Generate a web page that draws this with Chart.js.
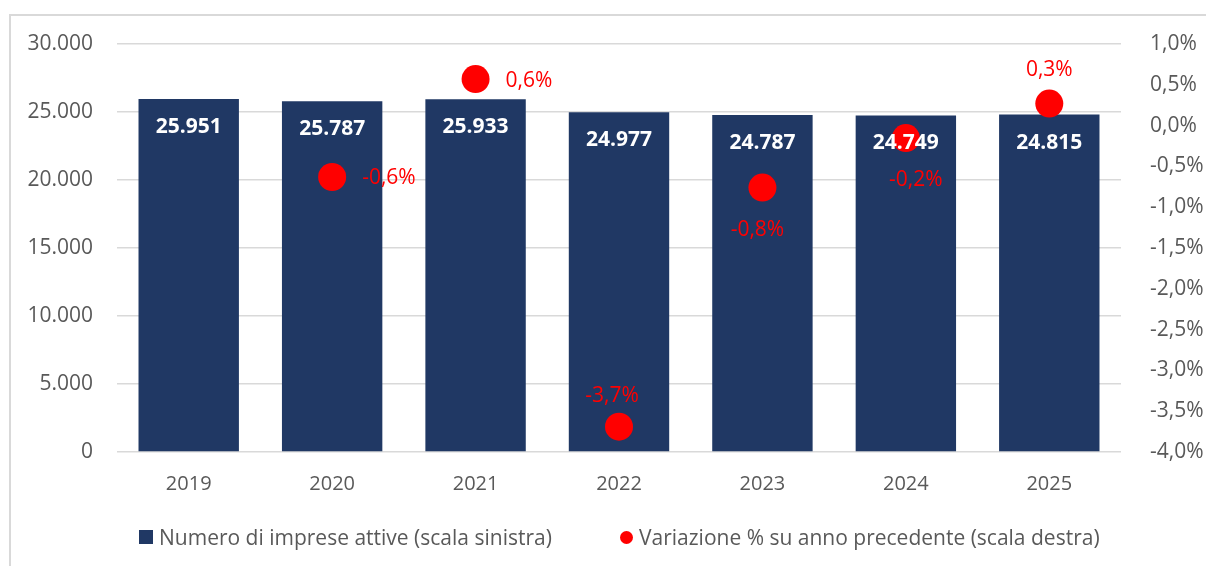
<!DOCTYPE html>
<html>
<head>
<meta charset="utf-8">
<script src="https://cdn.jsdelivr.net/npm/chart.js@4/dist/chart.umd.min.js"></script>
<style>
  body { margin: 0; background: #fff; }
  #wrap { position: relative; width: 1206px; height: 566px; overflow: hidden; }
  #frame { position: absolute; left: 9px; top: 14px; width: 1300px; height: 700px; border: 2px solid #d9d9d9; box-sizing: border-box; }
  canvas { position: absolute; left: 0; top: 0; }
  .leg { position: absolute; top: 523px; font: 21px "Open Sans", sans-serif; color: #595959; white-space: nowrap; line-height: 28px; }
  .leg i { display: inline-block; vertical-align: middle; margin-right: 6px; position: relative; top: -2px; }
</style>
</head>
<body>
<div id="wrap">
  <div id="frame"></div>
  <canvas id="myChart" width="1206" height="566"></canvas>
  <div class="leg" style="left:139px"><i style="width:14px;height:14px;background:#203864"></i>Numero di imprese attive (scala sinistra)</div>
  <div class="leg" style="left:620px"><i style="width:13px;height:13px;border-radius:50%;background:#ff0000"></i>Variazione % su anno precedente (scala destra)</div>
</div>
<script>
// dati
var anni = ["2019", "2020", "2021", "2022", "2023", "2024", "2025"];
var imprese = [25951, 25787, 25933, 24977, 24787, 24749, 24815];
var variazione = [null, -0.63, 0.57, -3.69, -0.76, -0.153, 0.27];

// offset etichette rosse [dx, dy, align]
var labelOffsets = [null, [30, 1, "left"], [30, 2, "left"], [-7, -31, "center"], [-5, 42, "center"], [10, 42, "center"], [0, -34, "center"]];

function fmtInt(v) {
    return String(Math.round(v)).replace(/\B(?=(\d{3})+(?!\d))/g, ".");
}
function fmtPct(v) {
    return v.toFixed(1).replace(".", ",") + "%";
}

var labelPlugin = {
    id: "valueLabels",
    afterDatasetsDraw: function(chart) {
        var ctx = chart.ctx;
        ctx.save();
        ctx.textBaseline = "middle";
        // valori barre
        ctx.font = 'bold 21px "Open Sans"';
        ctx.fillStyle = "#ffffff";
        ctx.textAlign = "center";
        chart.getDatasetMeta(0).data.forEach(function(bar, i) {
            ctx.fillText(fmtInt(imprese[i]), bar.x, bar.y + 28);
        });
        // valori punti
        ctx.font = '21px "Open Sans"';
        ctx.fillStyle = "#ff0000";
        chart.getDatasetMeta(1).data.forEach(function(pt, i) {
            if (variazione[i] == null) return;
            var o = labelOffsets[i];
            ctx.textAlign = o[2];
            ctx.fillText(fmtPct(variazione[i]), pt.x + o[0], pt.y + o[1]);
        });
        ctx.restore();
    }
};

var ctx = document.getElementById("myChart").getContext("2d");
var myChart = new Chart(ctx, {
    type: "bar",
    data: {
        labels: anni,
        datasets: [{
            label: "Numero di imprese attive (scala sinistra)",
            data: imprese,
            backgroundColor: "#203864",
            borderWidth: 0,
            barPercentage: 0.70,
            categoryPercentage: 1,
            yAxisID: "y",
            order: 2
        }, {
            type: "line",
            label: "Variazione % su anno precedente (scala destra)",
            data: variazione,
            showLine: false,
            pointRadius: 14,
            pointHoverRadius: 14,
            pointBackgroundColor: "#ff0000",
            pointBorderWidth: 0,
            yAxisID: "y1",
            order: 1
        }]
    },
    options: {
        responsive: false,
        animation: false,
        devicePixelRatio: 1,
        layout: { padding: { top: 44, left: 0, right: 0, bottom: 0 } },
        plugins: {
            legend: { display: false },
            tooltip: { enabled: false }
        },
        scales: {
            x: {
                grid: { display: false },
                border: { display: false },
                ticks: { color: "#595959", font: { family: "Open Sans", size: 20 }, padding: 12 },
                afterFit: function(scale) { scale.height = 114; }
            },
            y: {
                position: "left",
                min: 0,
                max: 30000,
                grid: { color: "#d9d9d9", lineWidth: 1.5, drawTicks: false },
                border: { display: false },
                ticks: {
                    stepSize: 5000,
                    color: "#595959",
                    font: { family: "Open Sans", size: 21 },
                    padding: 24,
                    callback: function(v) { return fmtInt(v); }
                },
                afterFit: function(scale) { scale.width = 117; }
            },
            y1: {
                position: "right",
                min: -4,
                max: 1,
                grid: { display: false, drawTicks: false },
                border: { display: false },
                ticks: {
                    stepSize: 0.5,
                    color: "#595959",
                    font: { family: "Open Sans", size: 21 },
                    padding: 29,
                    callback: function(v) { return fmtPct(v); }
                },
                afterFit: function(scale) { scale.width = 85; }
            }
        }
    },
    plugins: [labelPlugin]
});
</script>
</body>
</html>
